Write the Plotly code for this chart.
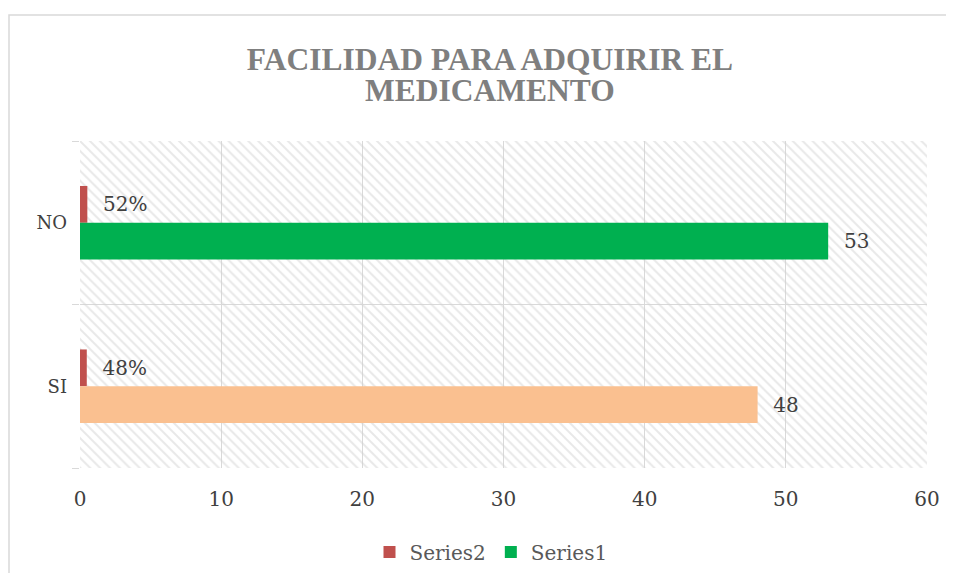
import plotly.graph_objects as go

# ---- data ----
categories = ["NO", "SI"]
series1_values = [53, 48]
series2_values = [0.52, 0.48]
series1_colors = ["#00B050", "#FAC090"]
series2_color = "#C0504D"
x_tick_values = [0, 10, 20, 30, 40, 50, 60]
axis_max = 60
title_line1 = "FACILIDAD PARA ADQUIRIR EL"
title_line2 = "MEDICAMENTO"

# figure is placed with the page's 8px body margin
W, H = 938, 565
L, R, T, B = 72, 19, 133, 105
PW, PH = W - L - R, H - T - B

def px(xf):  # figure x px -> paper
    return (xf - L) / PW

def py(yf):  # figure y px -> paper
    return (H - B - yf) / PH

label_font = dict(family="DejaVu Serif", size=20, color="#404040")
title_font = dict(family="Liberation Serif", size=31.5, color="#7F7F7F", weight="bold")

fig = go.Figure()

# hatched plot-area background (one full-band bar per category)
fig.add_trace(go.Bar(
    y=categories, x=[axis_max] * len(categories), orientation="h",
    width=1, offset=-0.5,
    marker=dict(color="rgba(0,0,0,0)", line=dict(width=0),
                pattern=dict(shape="\\", fgcolor="#D2D2D2", bgcolor="rgba(0,0,0,0)",
                             size=7, solidity=0.28)),
    showlegend=False, hoverinfo="skip",
))

fig.add_trace(go.Bar(
    name="Series2", y=categories, x=series2_values, orientation="h",
    width=0.225, offset=0,
    marker=dict(color=series2_color, line=dict(width=0)),
    texttemplate="\u00a0\u00a0%{x:.0%}", textposition="outside",
    textfont=label_font, cliponaxis=False,
))

fig.add_trace(go.Bar(
    name="Series1", y=categories, x=series1_values, orientation="h",
    width=0.225, offset=-0.225,
    marker=dict(color=series1_colors, line=dict(width=0)),
    texttemplate="\u00a0\u00a0%{x}", textposition="outside",
    textfont=label_font, cliponaxis=False,
))

fig.update_layout(
    width=W, height=H,
    margin=dict(l=L, r=R, t=T, b=B, pad=0, autoexpand=False),
    paper_bgcolor="white", plot_bgcolor="white",
    barmode="overlay",
    title=dict(text=title_line1, x=482 / W, xanchor="center", xref="container",
               y=1 - 50.5 / H, yanchor="middle", yref="container", font=title_font),
    annotations=[dict(text=title_line2, x=px(482), xanchor="center", xref="paper",
                      y=py(83), yanchor="middle", yref="paper", showarrow=False,
                      font=title_font)],
    font=dict(family="DejaVu Serif", size=18, color="#404040"),
    legend=dict(orientation="h", x=483 / W, xanchor="center", xref="container",
                y=1 - 544 / H, yanchor="middle", yref="container",
                font=dict(family="DejaVu Serif", size=20, color="#595959"),
                itemsizing="constant"),
    xaxis=dict(range=[0, axis_max], tickvals=x_tick_values, showgrid=True,
               gridcolor="#D9D9D9", gridwidth=1.3, zeroline=False, showline=False,
               ticks="", ticklabelstandoff=17, automargin=False,
               tickfont=dict(family="DejaVu Serif", size=20, color="#404040")),
    yaxis=dict(categoryorder="array", categoryarray=["SI", "NO"],
               tickson="boundaries", showgrid=True, gridcolor="#D9D9D9", gridwidth=1.3,
               ticks="outside", ticklen=7, tickcolor="#D9D9D9", tickwidth=1.3,
               ticklabelstandoff=12, zeroline=False, showline=False, automargin=False,
               tickfont=dict(family="DejaVu Serif", size=18, color="#404040")),
    shapes=[dict(type="rect", xref="paper", yref="paper",
                 x0=px(1), x1=px(W + 40), y0=py(H + 40), y1=py(7),
                 line=dict(color="#D9D9D9", width=1.5), fillcolor="rgba(0,0,0,0)",
                 layer="below")],
)

fig.write_html("out.html")
